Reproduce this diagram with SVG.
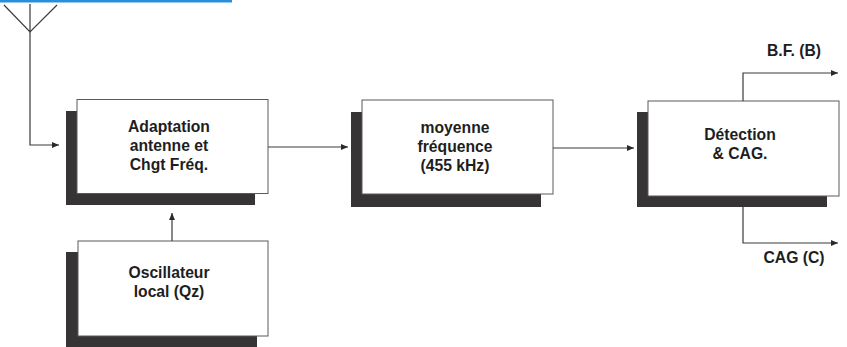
<svg xmlns="http://www.w3.org/2000/svg" width="847" height="347" viewBox="0 0 847 347">
<style>
.shadow{fill:#363434}
.box{fill:#ffffff;stroke:#5a5a5a;stroke-width:1}
.lbl{font-family:"Liberation Sans",Arial,sans-serif;font-weight:bold;font-size:15.7px;fill:#1e1e1e;text-anchor:middle}
.wire{fill:none;stroke:#3a3a3a;stroke-width:1.2}
</style>
<defs>
<marker id="ah" markerWidth="8" markerHeight="6" refX="7" refY="3" orient="auto" markerUnits="userSpaceOnUse">
<path d="M0,0 L7,3 L0,6 Z" fill="#2a2a2a"/>
</marker>
</defs>
<rect x="0" y="0" width="232" height="2.5" fill="#2a8fd8"/>
<g id="antenna">
<path class="wire" d="M4,5 L30,32 L57,5 M30,4 L30,32"/>
</g>
<g id="adaptation">
<rect class="shadow" x="66" y="111" width="189" height="94"/>
<rect class="box" x="77" y="99.5" width="191" height="94"/>
<text class="lbl" x="169" y="132">Adaptation</text>
<text class="lbl" x="169" y="151">antenne et</text>
<text class="lbl" x="169" y="170">Chgt Fréq.</text>
</g>
<g id="oscillateur">
<rect class="shadow" x="66" y="252" width="191" height="95"/>
<rect class="box" x="78" y="241" width="190" height="95"/>
<text class="lbl" x="169" y="278">Oscillateur</text>
<text class="lbl" x="169" y="297">local (Qz)</text>
</g>
<g id="moyenne">
<rect class="shadow" x="351" y="112" width="190" height="95"/>
<rect class="box" x="362" y="100" width="191" height="94"/>
<text class="lbl" x="455" y="133">moyenne</text>
<text class="lbl" x="455" y="152">fréquence</text>
<text class="lbl" x="455" y="171">(455 kHz)</text>
</g>
<g id="detection">
<rect class="shadow" x="637" y="112" width="190" height="95"/>
<rect class="box" x="648" y="101" width="191" height="95"/>
<text class="lbl" x="740" y="140">Détection</text>
<text class="lbl" x="740" y="159">&amp; CAG.</text>
</g>
<g id="labels">
<text class="lbl" x="794" y="56">B.F. (B)</text>
<text class="lbl" x="794" y="263">CAG (C)</text>
</g>
<g id="connectors">
<path class="wire" d="M30,32 L30,145 L59,145" marker-end="url(#ah)"/>
<path class="wire" d="M172,241 L172,213" marker-end="url(#ah)"/>
<path class="wire" d="M268,147 L348,147" marker-end="url(#ah)"/>
<path class="wire" d="M553,148 L634,148" marker-end="url(#ah)"/>
<path class="wire" d="M743,101 L743,73 L838,73" marker-end="url(#ah)"/>
<path class="wire" d="M743,207 L743,243 L838,243" marker-end="url(#ah)"/>
</g>
</svg>
